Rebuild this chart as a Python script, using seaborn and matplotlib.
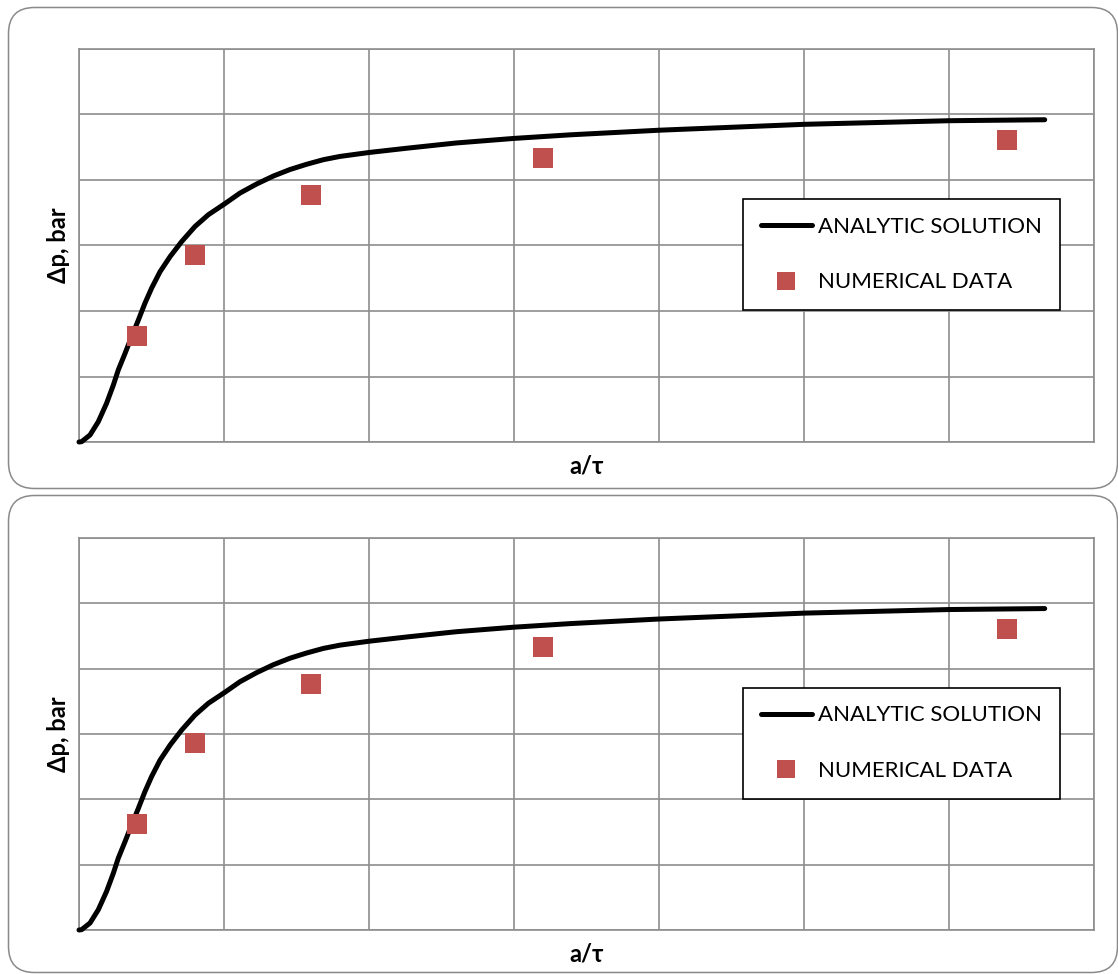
import matplotlib
matplotlib.use("Agg")
import matplotlib.pyplot as plt
from matplotlib.patches import FancyBboxPatch
from matplotlib.lines import Line2D
from matplotlib.transforms import IdentityTransform
import seaborn as sns
import pandas as pd

# Analytic solution curve (a/tau, delta p)
analytic_x = [0.0, 0.018, 0.076, 0.133, 0.19, 0.237, 0.271, 0.317, 0.363, 0.409,
              0.455, 0.501, 0.559, 0.628, 0.708, 0.8, 0.892, 1.007, 1.11, 1.226,
              1.34, 1.455, 1.57, 1.685, 1.8, 2.0, 2.26, 2.6, 3.0, 3.39, 4.0,
              5.0, 6.0, 6.66]
analytic_y = [0.0, 0.005, 0.107, 0.31, 0.59, 0.87, 1.10, 1.35, 1.61, 1.86,
              2.12, 2.35, 2.60, 2.83, 3.06, 3.29, 3.47, 3.64, 3.80, 3.94,
              4.06, 4.16, 4.24, 4.31, 4.36, 4.42, 4.485, 4.565, 4.635, 4.69, 4.76,
              4.85, 4.905, 4.92]

# Numerical results
numerical_x = [0.4, 0.8, 1.6, 3.2, 6.4]
numerical_y = [1.62, 2.86, 3.77, 4.33, 4.61]

x_ticks = [0, 1, 2, 3, 4, 5, 6, 7]
y_ticks = [0, 1, 2, 3, 4, 5, 6]

line_label = "ANALYTIC SOLUTION"
point_label = "NUMERICAL DATA"
x_title = "a/τ"
y_title = "Δp, bar"

W, H = 1118, 974
DPI = 100
GRID = "#8e8e8e"
RED = "#C0504D"

sns.set_theme(style="white")
plt.rcParams["font.family"] = ["Lato", "DejaVu Sans"]

curve = pd.DataFrame({"x": analytic_x, "y": analytic_y})
points = pd.DataFrame({"x": numerical_x, "y": numerical_y})

fig = plt.figure(figsize=(W / DPI, H / DPI), dpi=DPI)
fig.patch.set_facecolor("white")

# rounded chart-area frames (pixel coordinates, origin bottom-left)
for (x0, y0, x1, y1) in [(8.5, 485.5, 1117.5, 966.5), (8.5, 1.5, 1117.5, 478.5)]:
    frame = FancyBboxPatch((x0, y0), x1 - x0, y1 - y0,
                           boxstyle="round,pad=0,rounding_size=26",
                           transform=IdentityTransform(), facecolor="none",
                           edgecolor="#8a8a8a", linewidth=1.1, zorder=0.5)
    fig.add_artist(frame)

left = 79 / W
width = (1094 - 79) / W
panels = [(1 - 442 / H, 393 / H), (1 - 930 / H, 392 / H)]

for bottom, height in panels:
    ax = fig.add_axes([left, bottom, width, height])
    ax.set_facecolor("white")
    ax.set_xlim(0, 7)
    ax.set_ylim(0, 6)
    ax.set_xticks(x_ticks)
    ax.set_yticks(y_ticks)
    ax.grid(True, color=GRID, linewidth=1.2)
    ax.set_axisbelow(True)
    ax.tick_params(length=0, labelbottom=False, labelleft=False)
    for sp in ax.spines.values():
        sp.set_color(GRID)
        sp.set_linewidth(1.2)

    sns.lineplot(data=curve, x="x", y="y", ax=ax, color="black", linewidth=3.6,
                 sort=False, estimator=None, legend=False, zorder=3,
                 solid_capstyle="round", solid_joinstyle="round", clip_on=False)
    sns.scatterplot(data=points, x="x", y="y", ax=ax, color=RED, marker="s",
                    s=205, edgecolor="none", legend=False, zorder=4)

    ax.set_xlabel("")
    ax.set_ylabel("")
    ax.text(0.5, -24 / 393, x_title, transform=ax.transAxes, ha="center",
            va="center", fontsize=17, fontweight="bold", color="black")
    ax.text(-(79 - 58) / 1015, 0.5, y_title, transform=ax.transAxes, ha="center",
            va="center", rotation=90, fontsize=17, fontweight="bold", color="black")

    handles = [
        Line2D([0], [0], color="black", linewidth=3.6, solid_capstyle="round"),
        Line2D([0], [0], color=RED, marker="s", markersize=13.5, linestyle="none",
               markeredgewidth=0),
    ]
    leg = ax.legend(handles, [line_label, point_label], loc="upper left",
                    bbox_to_anchor=((743 - 79) / 1015, (442 - 199) / 393),
                    borderaxespad=0, fontsize=16, frameon=True, fancybox=False,
                    edgecolor="black", framealpha=1, handlelength=2.3,
                    handletextpad=0.27, borderpad=0.8, labelspacing=1.6)
    leg.get_frame().set_linewidth(1.2)
    for t in leg.get_texts():
        t.set_color("black")

fig.savefig("out.png", dpi=DPI, facecolor="white")
